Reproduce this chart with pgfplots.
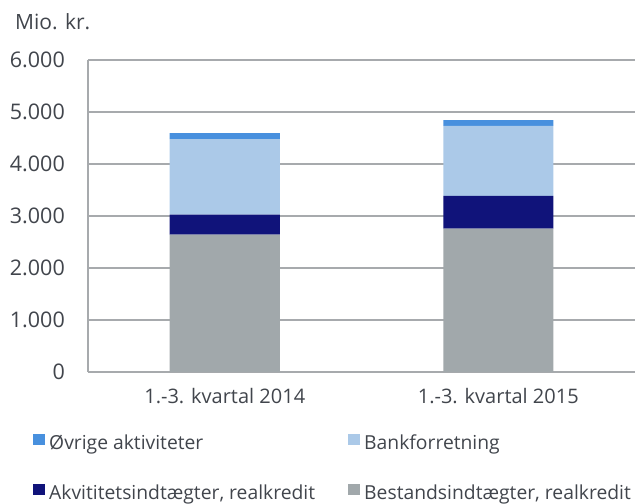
\documentclass[border=0pt]{standalone}
\usepackage{fontspec}
\setmainfont{Open Sans}
\usepackage{pgfplots}
\pgfplotsset{compat=1.18}
\definecolor{ovr}{HTML}{4890DE}
\definecolor{bank}{HTML}{ABC9E8}
\definecolor{navy}{HTML}{10137A}
\definecolor{bgray}{HTML}{A1A8AB}
\definecolor{gridc}{HTML}{A7AAAD}
\definecolor{txt}{HTML}{41454C}
\begin{document}
\begin{tikzpicture}
\begin{axis}[
  scale only axis, width=547bp, height=312bp,
  at={(0,0)}, anchor=south west,
  xmin=-0.5, xmax=1.5, ymin=0, ymax=6000,
  ybar stacked, bar width=110bp,
  axis x line*=bottom, axis y line*=left,
  axis line style={gridc, line width=1.5bp},
  ymajorgrids, grid style={gridc, line width=1.5bp},
  major tick length=0pt,
  xtick={0,1}, xticklabels={1.-3. kvartal 2014, 1.-3. kvartal 2015},
  ytick={0,1000,2000,3000,4000,5000,6000},
  yticklabels={0,1.000,2.000,3.000,4.000,5.000,6.000},
  /pgf/number format/assume math mode=true,
  yticklabel style={font=\fontsize{21.5bp}{24bp}\selectfont, text=txt, anchor=east, inner sep=0pt, xshift=-23bp},
  xticklabel style={font=\fontsize{20bp}{24bp}\selectfont, text=txt, anchor=north, inner sep=0pt, yshift=-16bp},
  reverse legend, legend columns=2, legend cell align=left,
  legend style={draw=none, fill=none, inner sep=0pt, at={(axis description cs:-0.1005,-0.1987)}, anchor=north west,
    font=\fontsize{19.3bp}{22bp}\selectfont, text=txt,
    nodes={inner sep=0pt, text height=15bp, text depth=4bp},
    row sep=30.5bp,
    /tikz/every odd column/.append style={column sep=4bp}},
  legend image code/.code={\fill[#1] (0bp,-1bp) rectangle (12bp,10bp);},
]
\addplot[fill=bgray, draw=none] coordinates {(0,2640) (1,2756)};
\addlegendentry{Bestandsindtægter, realkredit}
\addplot[fill=navy, draw=none] coordinates {(0,385) (1,630)};
\addlegendentry{\makebox[299bp][l]{Akvititetsindtægter, realkredit}}
\addplot[fill=bank, draw=none] coordinates {(0,1455) (1,1345)};
\addlegendentry{Bankforretning}
\addplot[fill=ovr, draw=none] coordinates {(0,115) (1,115)};
\addlegendentry{\makebox[299bp][l]{Øvrige aktiviteter}}
\end{axis}
\node[anchor=base west, inner sep=0pt, text=txt, font=\fontsize{21bp}{24bp}\selectfont] at (-73bp,342bp) {Mio. kr.};
\pgfresetboundingbox
\useasboundingbox (-88bp,-132bp) rectangle (547bp,372bp);
\end{tikzpicture}
\end{document}
